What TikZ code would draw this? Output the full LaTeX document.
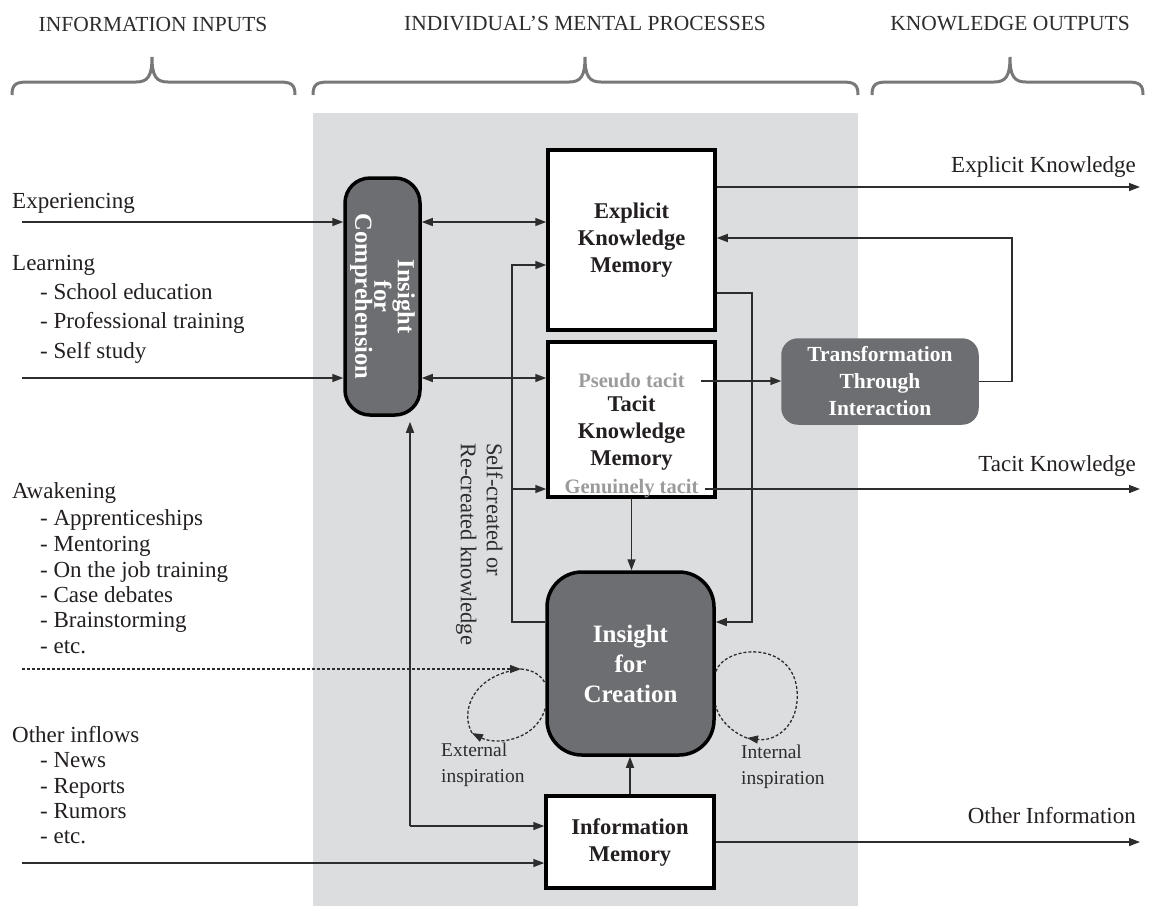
\documentclass[tikz,border=0pt]{standalone}
\usepackage{fontspec}
\setmainfont{Liberation Serif}
\usetikzlibrary{arrows.meta}
\definecolor{bggray}{RGB}{220,221,223}
\definecolor{boxgray}{RGB}{109,110,113}
\definecolor{linegray}{RGB}{45,45,45}
\definecolor{txtgray}{RGB}{35,31,32}
\definecolor{softgray}{RGB}{155,155,155}
\definecolor{bracegray}{RGB}{120,120,120}

\begin{document}
\begin{tikzpicture}[x=1pt,y=-1pt,
  lbl/.style={font=\fontsize{23}{26}\selectfont,text=txtgray,inner sep=0pt,anchor=west,text height=15pt,text depth=5pt},
  multi/.style={font=\fontsize{22.5}{26}\selectfont,text=linegray,inner sep=0pt,align=left},
  small/.style={font=\fontsize{19.5}{26}\selectfont,text=linegray,inner sep=0pt,align=left,anchor=north west},
  head/.style={font=\fontsize{21.5}{25}\selectfont,text=linegray},
  brc/.style={draw=bracegray,line width=3pt},
  membox/.style={draw=black,line width=3.5pt,fill=white,align=center,text=txtgray,
    font=\bfseries\fontsize{22.5}{27}\selectfont},
  darkbox/.style={draw=black,line width=3.5pt,fill=boxgray,align=center,text=white,
    font=\bfseries\fontsize{22.5}{27}\selectfont},
  softtxt/.style={font=\bfseries\fontsize{20.5}{24}\selectfont,text=softgray,inner sep=0pt},
  arr/.style={draw=linegray,line width=1.5pt,-{Triangle[length=11pt,width=8pt]}},
  dbl/.style={arr,{Triangle[length=11pt,width=8pt]}-{Triangle[length=11pt,width=8pt]}},
  dashln/.style={draw=linegray,line width=1.3pt,dash pattern=on 3pt off 2pt}]
\useasboundingbox (0,0) rectangle (1150,906);

% middle column background
\fill[bggray] (313,113) rectangle (858,906);

% column headers
\node[head] (hin) at (153,24) {INFORMATION INPUTS};
\node[head] (hmid) at (585,24) {INDIVIDUAL’S MENTAL PROCESSES};
\node[head] (hout) at (1010,24) {KNOWLEDGE OUTPUTS};
\draw[brc] (12,95) .. controls (12,84) and (16,82) .. (28,82) -- (136,82)
  .. controls (148,82) and (152,76) .. (152,57) .. controls (152,76) and (156,82) .. (168,82)
  -- (279,82) .. controls (291,82) and (295,84) .. (295,95);
\draw[brc] (313,95) .. controls (313,84) and (317,82) .. (329,82) -- (569,82)
  .. controls (581,82) and (585,76) .. (585,57) .. controls (585,76) and (589,82) .. (601,82)
  -- (842,82) .. controls (854,82) and (858,84) .. (858,95);
\draw[brc] (872,95) .. controls (872,84) and (876,82) .. (888,82) -- (994,82)
  .. controls (1006,82) and (1010,76) .. (1010,57) .. controls (1010,76) and (1014,82) .. (1026,82)
  -- (1127,82) .. controls (1139,82) and (1143,84) .. (1143,95);

% boxes
\node[darkbox,rounded corners=25pt,minimum width=75pt,minimum height=237pt] (ic) at (382.5,296.5) {};
\node[darkbox,draw=none,fill=none,rotate=-90,font=\bfseries\fontsize{24.5}{19}\selectfont] (ictext) at (ic) {Insight\\for\\Comprehension};
\node[membox,minimum width=167pt,minimum height=180pt] (ekm) at (631.5,240) {Explicit\\Knowledge\\Memory};
\node[membox,minimum width=167pt,minimum height=155pt] (tkm) at (631.5,419.5) {};
\node[membox,draw=none,fill=none] (tkmtext) at (631.5,433) {Tacit\\Knowledge\\Memory};
\node[softtxt] (ptac) at (631.5,381) {Pseudo tacit};
\node[softtxt] (gtac) at (631.5,489) {Genuinely tacit};
\node[darkbox,draw=boxgray,rounded corners=15pt,minimum width=194pt,minimum height=83pt,
  font=\bfseries\fontsize{21.5}{27}\selectfont] (tti) at (880,381.5) {Transformation\\Through\\Interaction};
\node[darkbox,rounded corners=35pt,minimum width=167pt,minimum height=183pt,
  font=\bfseries\fontsize{25}{30}\selectfont] (ifc) at (630.5,663.5) {Insight\\for\\Creation};
\node[membox,minimum width=168pt,minimum height=92pt] (im) at (630,842) {Information\\Memory};

% inputs
\node[lbl] (exper) at (12,203) {Experiencing};
\node[lbl] (learn) at (12,265) {Learning};
\node[lbl] (learna) at (40,294) {- School education};
\node[lbl] (learnb) at (40,323) {- Professional training};
\node[lbl] (learnc) at (40,353) {- Self study};
\node[lbl] (awake) at (12,493) {Awakening};
\node[lbl] (awakea) at (40,520) {- Apprenticeships};
\node[lbl] (awakeb) at (40,546) {- Mentoring};
\node[lbl] (awakec) at (40,572) {- On the job training};
\node[lbl] (awaked) at (40,597) {- Case debates};
\node[lbl] (awakee) at (40,622) {- Brainstorming};
\node[lbl] (awakef) at (40,648) {- etc.};
\node[lbl] (other) at (12,737) {Other inflows};
\node[lbl] (othera) at (40,762) {- News};
\node[lbl] (otherb) at (40,788) {- Reports};
\node[lbl] (otherc) at (40,813) {- Rumors};
\node[lbl] (otherd) at (40,838) {- etc.};
\coordinate (expin) at (22,222);
\coordinate (learnin) at (22,378);
\coordinate (awakein) at (22,669);
\coordinate (otherin) at (22,863);

% outputs
\node[lbl,anchor=east] (explbl) at (1136,167) {Explicit Knowledge};
\node[lbl,anchor=east] (taclbl) at (1136,466) {Tacit Knowledge};
\node[lbl,anchor=east] (infolbl) at (1136,818) {Other Information};
\coordinate (explout) at (1140,187);
\coordinate (tacitout) at (1140,489);
\coordinate (infoout) at (1140,842);

% helper points
\coordinate (selfc) at (512,622);
\coordinate (selftop) at (512,265);
\coordinate (ekdown) at (752,293);
\coordinate (tback) at (1012,238);
\coordinate (icfeed) at (410,826);
\coordinate (extop) at (521,669);
\coordinate (exlow) at (472,733);
\coordinate (intlow) at (747,738);

% input arrows
\draw[arr] (expin) -- (expin -| ic.west);
\draw[arr] (learnin) -- (learnin -| ic.west);
\draw[arr] (otherin) -- (otherin -| im.west);
\draw[dashln,-{Triangle[length=11pt,width=8pt]}] (awakein) -- (extop);

% between the boxes
\draw[dbl] (ic.east |- expin) -- (ekm.west |- expin);
\draw[dbl] (ic.east |- learnin) -- (tkm.west |- learnin);
\draw[arr] (ifc.west |- selfc) -- (selfc) |- (ekm.west |- selftop);
\draw[arr] (selfc |- gtac) -- (tkm.west |- gtac);
\draw[arr] (ekm.east |- ekdown) -- (ekdown) |- (ifc.east |- selfc);
\draw[arr] (tkm.south) -- (tkm.south |- ifc.north);
\draw[arr] (im.north) -- (im.north |- ifc.south);
\draw[arr] (icfeed) -- (icfeed -| im.west);
\draw[arr,shorten >=5pt] (icfeed) -- (icfeed |- ic.south);
\draw[arr] ([xshift=16pt]ptac.east) -- (ptac.east -| tti.west);
\draw[arr] (tti.east) -| (tback) -- (ekm.east |- tback);

% outputs
\draw[arr] (ekm.east |- explout) -- (explout);
\draw[arr] ([xshift=6pt]gtac.east) -- (gtac.east -| tacitout);
\draw[arr] (im.east) -- (im.east -| infoout);

% inspiration loops
\draw[dashln] (extop) .. controls (533,670) and (541,675) .. ([yshift=-20pt]ifc.west);
\draw[dashln,-{Triangle[length=11pt,width=8pt]}] ([yshift=-45pt]ifc.west) .. controls (535,742) and (495,745) .. (exlow);
\draw[dashln] (exlow) .. controls (460,712) and (472,675) .. (extop);
\draw[dashln,-{Triangle[length=11pt,width=8pt]}] ([yshift=-8pt]ifc.east) .. controls (725,645) and (792,640) .. (797,690)
  .. controls (800,725) and (776,742) .. (intlow);
\draw[dashln] (intlow) .. controls (731,732) and (718,718) .. ([yshift=-42pt]ifc.east);
\node[small] (extlbl) at (441,743) {External\\inspiration};
\node[small] (intlbl) at (741,745) {Internal\\inspiration};
\node[multi,rotate=-90,anchor=north west] (selflbl) at (503,443) {Self-created or\\Re-created knowledge};
\end{tikzpicture}
\end{document}
